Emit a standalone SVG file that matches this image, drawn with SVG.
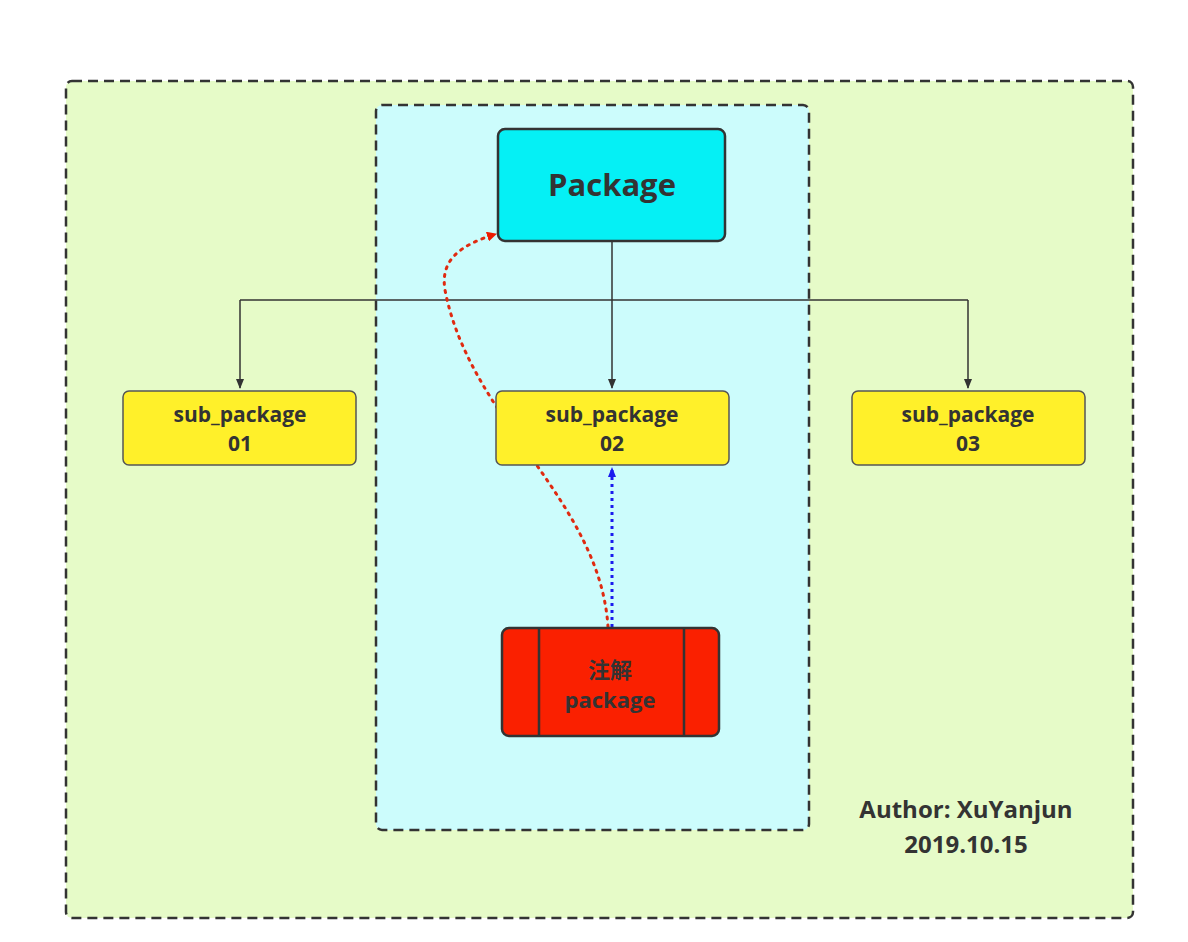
<svg xmlns="http://www.w3.org/2000/svg" width="1188" height="942" viewBox="0 0 1188 942">
<style>
text{font-family:"Open Sans","DejaVu Sans","Noto Sans CJK SC",sans-serif;font-weight:bold;fill:#333;text-anchor:middle}
.sub rect{fill:#fff02a;stroke:#555;stroke-width:1.5}
.sub text{font-size:21px}
.ln{fill:none;stroke:#333;stroke-width:1.5}
</style>
<defs>
<marker id="ab" viewBox="0 0 10 10" refX="9" refY="5" markerWidth="10" markerHeight="10" markerUnits="userSpaceOnUse" orient="auto"><path d="M0,1 L10,5 L0,9 Z" fill="#333"/></marker>
<marker id="ablu" viewBox="0 0 10 10" refX="9" refY="5" markerWidth="10" markerHeight="10" markerUnits="userSpaceOnUse" orient="auto"><path d="M0,1 L10,5 L0,9 Z" fill="#1a1aee"/></marker>
<marker id="ared" viewBox="0 0 10 10" refX="9" refY="5" markerWidth="10" markerHeight="10" markerUnits="userSpaceOnUse" orient="auto"><path d="M0,0 L10,5 L0,10 Z" fill="#ee1a00"/></marker>
</defs>
<rect width="1188" height="942" fill="#fff"/>
<g id="outer"><rect x="66" y="81" width="1067" height="837" rx="6" fill="#e6fbc8" stroke="#333" stroke-width="2.5" stroke-dasharray="10,6"/></g>
<g id="inner"><rect x="376" y="105" width="433" height="725" rx="6" fill="#ccfcfc" stroke="#333" stroke-width="2.5" stroke-dasharray="10,6"/></g>
<g id="connectors">
<path class="ln" d="M612,241 V388" marker-end="url(#ab)"/>
<path class="ln" d="M240,300 H968"/>
<path class="ln" d="M240,300 V388" marker-end="url(#ab)"/>
<path class="ln" d="M968,300 V388" marker-end="url(#ab)"/>
<path d="M612,627 V468" fill="none" stroke="#1a1aee" stroke-width="3" stroke-dasharray="3,4" marker-end="url(#ablu)" marker-width="20"/>
<path d="M608,627 C600,500 470,420 445,290 C440,260 460,245 496,234" fill="none" stroke="#e02a10" stroke-width="3" stroke-dasharray="2,6" stroke-linecap="round" marker-end="url(#ared)"/>
</g>
<g id="package"><rect x="498" y="129" width="227" height="112" rx="7" fill="#05f0f5" stroke="#333" stroke-width="2.5"/><text x="612" y="196" font-size="31">Package</text></g>
<g id="sub01" class="sub"><rect x="123" y="391" width="233" height="74" rx="6"/><text x="240" y="422">sub_package</text><text x="240" y="451">01</text></g>
<g id="sub02" class="sub"><rect x="496" y="391" width="233" height="74" rx="6"/><text x="612" y="422">sub_package</text><text x="612" y="451">02</text></g>
<g id="sub03" class="sub"><rect x="852" y="391" width="233" height="74" rx="6"/><text x="968" y="422">sub_package</text><text x="968" y="451">03</text></g>
<g id="annot"><rect x="502" y="628" width="217" height="108" rx="7" fill="#fa2000" stroke="#333" stroke-width="2.5"/><path d="M539,628 V736 M684,628 V736" stroke="#333" stroke-width="2.5"/><text x="610" y="678" font-size="22">注解</text><text x="610" y="708" font-size="22">package</text></g>
<g id="author"><text x="966" y="818" font-size="24">Author: XuYanjun</text><text x="966" y="853" font-size="24">2019.10.15</text></g>
</svg>
